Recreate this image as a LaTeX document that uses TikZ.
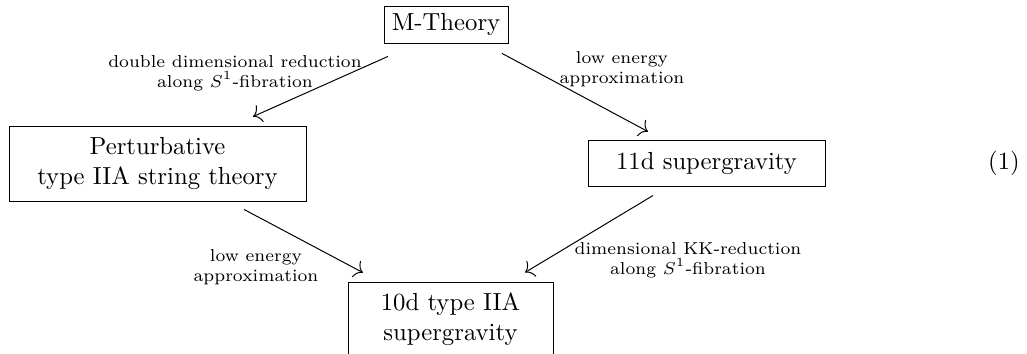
\documentclass[tikz,border=0pt]{standalone}
\usetikzlibrary{arrows.meta}
\newlength{\du}
\setlength{\du}{0.4049pt}
\tikzset{
  theorybox/.style={draw, align=center, inner sep=0pt},
  arrowlabel/.style={align=center, font=\scriptsize},
  reduction/.style={-{To[length=3.2pt,width=7.5pt]}},
}

\begin{document}
\begin{tikzpicture}
\pgftransformxscale{1.000000}
\pgftransformyscale{-1.000000}
\useasboundingbox (0\du,0\du) rectangle (1027\du,354\du);
% theories
\node[theorybox, minimum width=124\du, minimum height=37\du] (mtheory) at (446.000000\du,24.500000\du){M-Theory};
\node[theorybox, minimum width=297\du, minimum height=75\du] (perturbative) at (157.500000\du,163.500000\du){Perturbative\\type IIA string theory};
\node[theorybox, minimum width=237\du, minimum height=46\du] (sugraeleven) at (706.500000\du,163.000000\du){11d supergravity};
\node[theorybox, minimum width=205\du, minimum height=75\du] (sugraten) at (450.500000\du,319.500000\du){10d type IIA\\supergravity};
% equation number
\node (eqno) at (1004.000000\du,163.000000\du){(1)};
% reductions
\draw[reduction, shorten <=31.8\du, shorten >=21.9\du] ([xshift=-29.0\du]mtheory.south) -- ([xshift=75.5\du]perturbative.north);
\draw[reduction, shorten <=21.0\du, shorten >=16.8\du] ([xshift=37.5\du]mtheory.south) -- ([xshift=-43.7\du]sugraeleven.north);
\draw[reduction, shorten <=17.0\du, shorten >=19.0\du] ([xshift=71.5\du]perturbative.south) -- ([xshift=-70.8\du]sugraten.north);
\draw[reduction, shorten <=17.5\du, shorten >=17.5\du] ([xshift=-38.5\du]sugraeleven.south) -- ([xshift=59.5\du]sugraten.north);
% labels
\node[arrowlabel] (lbldouble) at (235.000000\du,73.000000\du){double dimensional reduction\\along $S^1$-fibration};
\node[arrowlabel] (lbllowtop) at (622.000000\du,69.000000\du){low energy\\approximation};
\node[arrowlabel] (lbllowbottom) at (256.000000\du,267.000000\du){low energy\\approximation};
\node[arrowlabel] (lblkk) at (688.000000\du,260.000000\du){dimensional KK-reduction\\along $S^1$-fibration};
\end{tikzpicture}
\end{document}
